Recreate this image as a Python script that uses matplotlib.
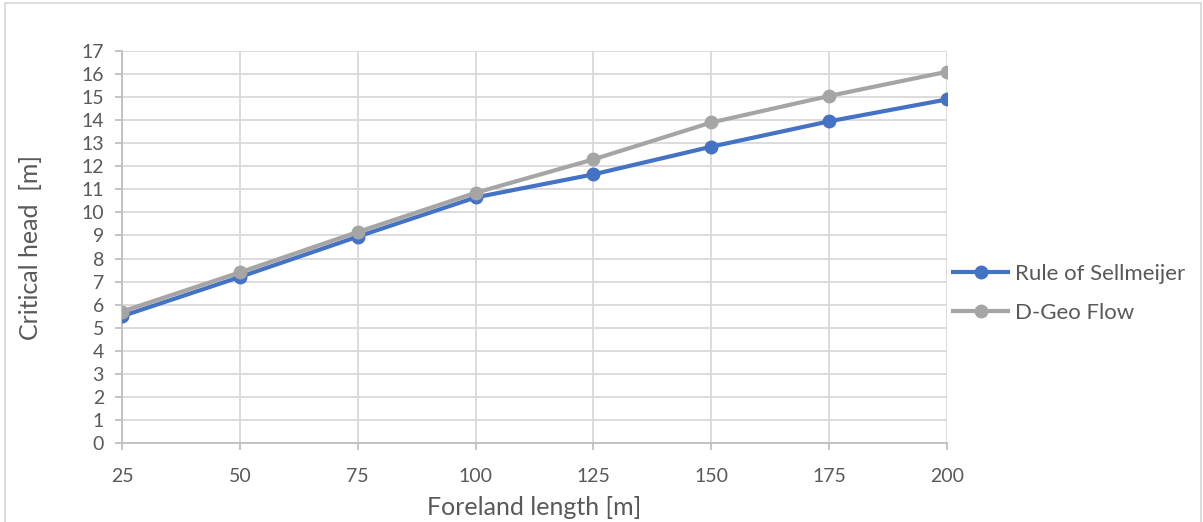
import matplotlib.pyplot as plt
from matplotlib.patches import Rectangle

plt.rcParams['font.family'] = ['Lato', 'DejaVu Sans']

# foreland length [m]
foreland = [25, 50, 75, 100, 125, 150, 175, 200]
# critical head [m]
sellmeijer = [5.5, 7.2, 8.95, 10.65, 11.65, 12.85, 13.95, 14.9]
dgeoflow = [5.7, 7.4, 9.15, 10.85, 12.3, 13.9, 15.05, 16.1]
y_ticks = list(range(0, 18))

text_col = '#595959'
grid_col = '#D9D9D9'


def main():
    fig = plt.figure(figsize=(12.03, 5.22), dpi=100)
    ax = fig.add_axes([122 / 1203, 1 - 443 / 522, 825 / 1203, 392 / 522])

    ax.plot(foreland, sellmeijer, color='#4472C4', lw=3, marker='o', ms=9,
            label='Rule of Sellmeijer', zorder=3)
    ax.plot(foreland, dgeoflow, color='#A5A5A5', lw=3, marker='o', ms=9,
            label='D-Geo Flow', zorder=4)

    ax.set_xlim(foreland[0], foreland[-1])
    ax.set_ylim(y_ticks[0], y_ticks[-1])
    ax.set_xticks(foreland)
    ax.set_yticks(y_ticks)
    ax.grid(True, color=grid_col, lw=1.3)
    ax.set_axisbelow(True)

    for s in ['top', 'right']:
        ax.spines[s].set_visible(False)
    for s in ['left', 'bottom']:
        ax.spines[s].set_color('#BFBFBF')
        ax.spines[s].set_linewidth(1.3)

    ax.tick_params(axis='both', colors='#BFBFBF', width=1.3, length=5,
                   labelcolor=text_col, labelsize=14)
    ax.tick_params(axis='x', pad=13)
    ax.tick_params(axis='y', pad=8)

    ax.set_xlabel('Foreland length [m]', fontsize=18, color=text_col, labelpad=8)
    ax.set_ylabel('Critical head  [m]', fontsize=18, color=text_col, labelpad=28)

    fig.legend(loc='upper left', bbox_to_anchor=(944 / 1203, 1 - 255 / 522),
               borderaxespad=0, frameon=False, fontsize=16, labelcolor=text_col,
               handlelength=2.5, handletextpad=0.3, labelspacing=0.85)

    fig.patches.append(Rectangle((5 / 1203, -0.1), 1196 / 1203, 1.1 - 3 / 522,
                                 transform=fig.transFigure, fill=False,
                                 edgecolor='#D9D9D9', lw=1.3))

    fig.savefig('out.png', dpi=100)
    plt.close(fig)


if __name__ == '__main__':
    main()
